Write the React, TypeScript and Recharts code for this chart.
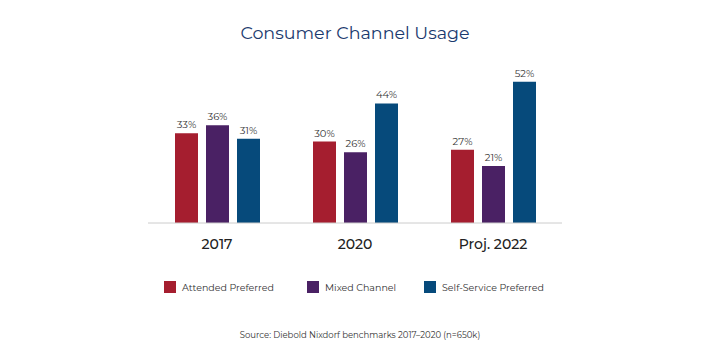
import React from 'react';
import { BarChart, Bar, XAxis, YAxis, LabelList } from 'recharts';

const categories = ['2017', '2020', 'Proj. 2022'];
const attended = [33, 30, 27];
const mixed = [36, 26, 21];
const selfService = [31, 44, 52];

const series = [
  { key: 'attended', name: 'Attended Preferred', color: '#A51E2F' },
  { key: 'mixed', name: 'Mixed Channel', color: '#4A2164' },
  { key: 'selfService', name: 'Self-Service Preferred', color: '#064A7B' },
];

const data = categories.map((c, i) => ({
  category: c,
  attended: attended[i],
  mixed: mixed[i],
  selfService: selfService[i],
}));

const FONT = 'Montserrat, "Open Sans", Lato, sans-serif';
const legendX = [164, 307, 424];

const App: React.FC = () => {
  return (
    <div style={{ position: 'relative', width: 710, height: 355, margin: -8, background: '#fff', fontFamily: FONT }}>
      <div
        style={{
          position: 'absolute',
          top: 22,
          width: 710,
          textAlign: 'center',
          fontSize: 17.5,
          color: '#1B3A6E',
        }}
      >
        Consumer Channel Usage
      </div>
      <BarChart
        width={710}
        height={355}
        data={data}
        margin={{ top: 60, right: 148, left: 148, bottom: 102 }}
        barSize={23}
        barGap={8}
      >
        <XAxis
          dataKey="category"
          height={30}
          axisLine={{ stroke: '#cccccc' }}
          tickLine={false}
          tick={{ fontSize: 14, fontWeight: 500, fill: '#222', dy: 8 }}
        />
        <YAxis hide domain={[0, 60]} />
        {series.map((s) => (
          <Bar key={s.key} dataKey={s.key} name={s.name} fill={s.color} isAnimationActive={false}>
            <LabelList
              dataKey={s.key}
              position="top"
              offset={5}
              formatter={(v: number) => `${v}%`}
              style={{ fontSize: 10, fill: '#333' }}
            />
          </Bar>
        ))}
      </BarChart>
      {series.map((s, i) => (
        <div
          key={s.key}
          style={{
            position: 'absolute',
            left: legendX[i],
            top: 281,
            display: 'flex',
            alignItems: 'center',
            fontSize: 9.5,
            color: '#333',
          }}
        >
          <span style={{ width: 12, height: 12, background: s.color, display: 'inline-block', marginRight: 6 }} />
          <span>{s.name}</span>
        </div>
      ))}
      <div
        style={{
          position: 'absolute',
          top: 330,
          width: 710,
          textAlign: 'center',
          fontSize: 8.5,
          color: '#333',
          paddingLeft: 10,
          boxSizing: 'border-box',
        }}
      >
        Source: Diebold Nixdorf benchmarks 2017–2020 (n=650k)
      </div>
    </div>
  );
};

export default App;
